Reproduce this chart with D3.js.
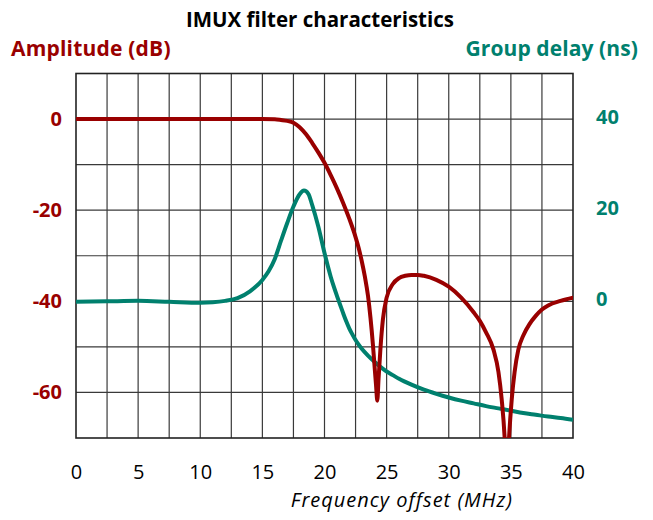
<!DOCTYPE html>
<html>
<head>
<meta charset="utf-8">
<script src="https://cdn.jsdelivr.net/npm/d3@7"></script>
<style>
  body { margin: 0; background: #fff; }
  svg text { font-family: "Open Sans", "Noto Sans", sans-serif; }
</style>
</head>
<body>
<svg id="chart" width="653" height="520"></svg>
<script>
// amplitude response (MHz, dB)
const ampFreq = [0, 5, 10, 15, 16, 16.5, 17, 17.5, 18, 18.5, 19, 19.5, 20, 20.5, 21, 21.5, 22, 22.5, 22.75, 23, 23.25, 23.5, 23.7, 23.9, 24.05, 24.15, 24.25, 24.35, 24.5, 24.7, 25, 25.5, 26, 26.5, 27, 27.5, 28, 29, 30, 31, 32, 32.5, 33, 33.6, 34, 34.26, 34.5, 34.66, 34.85, 35.07, 35.3, 35.6, 36, 36.5, 37, 37.5, 38, 39, 40];
const ampDb = [0, 0, 0, 0, -0.05, -0.2, -0.4, -0.8, -1.8, -3.3, -5.2, -7.3, -9.6, -12.3, -15.2, -18.4, -21.9, -25.9, -28.3, -31.2, -34.6, -38.8, -43.6, -49.6, -55, -58.5, -61.8, -57, -50.5, -44, -39.2, -36.2, -34.9, -34.4, -34.2, -34.2, -34.4, -35.3, -36.8, -39.2, -42.4, -44.3, -46.8, -50.6, -55.5, -61.5, -70, -80, -70, -61.5, -55.5, -50.6, -47.5, -45, -43.2, -41.8, -40.9, -39.9, -39.2];

// group delay (MHz, ns)
const gdFreq = [0, 2.5, 5, 7.5, 10, 11, 12, 13, 14, 15, 15.5, 16, 16.5, 17, 17.5, 18, 18.35, 18.7, 19, 19.5, 20, 20.25, 20.5, 20.75, 21, 21.25, 21.5, 21.75, 22, 22.25, 22.5, 22.75, 23, 23.5, 24, 24.5, 25, 25.5, 26, 27, 28, 29, 30, 31, 32, 33, 34, 35, 36, 37, 38, 39, 40];
const gdNs = [-0.1, 0, 0.1, -0.1, -0.3, -0.2, 0.1, 0.7, 2.2, 4.7, 6.6, 9.3, 13.3, 17.2, 20.8, 23.5, 24.3, 23.6, 21.2, 16.4, 10.6, 7.9, 5.4, 3.2, 1.2, -0.7, -2.6, -4.4, -6.0, -7.3, -8.5, -9.5, -10.4, -11.9, -13.2, -14.4, -15.4, -16.2, -17, -18.3, -19.4, -20.3, -21.1, -21.8, -22.4, -23, -23.5, -24, -24.5, -24.9, -25.3, -25.6, -26];

const freqTicks = [0, 5, 10, 15, 20, 25, 30, 35, 40];
const ampTicks = [0, -20, -40, -60];
const gdTicks = [0, 20, 40];

const red = "#990000";
const teal = "#00806e";

const svg = d3.select("#chart");
const pLeft = 76, pRight = 573, pTop = 73.5, pBottom = 438;

const x = d3.scaleLinear().domain([0, 40]).range([pLeft, pRight]);
const yAmp = d3.scaleLinear().domain([-70, 10]).range([pBottom, pTop]);
const yGd = d3.scaleLinear().domain([-30, 50]).range([pBottom, pTop]);

svg.append("defs").append("clipPath").attr("id", "plot")
    .append("rect")
    .attr("x", pLeft).attr("y", pTop)
    .attr("width", pRight - pLeft).attr("height", pBottom - pTop);

// grid
const grid = svg.append("g");
grid.selectAll(".vline")
    .data(d3.range(2.5, 40, 2.5))
    .enter().append("line")
    .attr("x1", d => x(d)).attr("x2", d => x(d))
    .attr("y1", pTop).attr("y2", pBottom)
    .attr("stroke", "#3a3a3a").attr("stroke-width", 1.2);
grid.selectAll(".hline")
    .data(d3.range(-60, 10, 10))
    .enter().append("line")
    .attr("x1", pLeft).attr("x2", pRight)
    .attr("y1", d => yAmp(d)).attr("y2", d => yAmp(d))
    .attr("stroke", "#3a3a3a").attr("stroke-width", 1.2);

svg.append("rect")
    .attr("x", pLeft).attr("y", pTop)
    .attr("width", pRight - pLeft).attr("height", pBottom - pTop)
    .attr("fill", "none").attr("stroke", "#222").attr("stroke-width", 1.6);

// curves
const gdLine = d3.line()
    .x((d, i) => x(gdFreq[i]))
    .y(d => yGd(d))
    .curve(d3.curveMonotoneX);

const ampLine = d3.line()
    .x((d, i) => x(ampFreq[i]))
    .y(d => yAmp(d))
    .curve(d3.curveMonotoneX);

const curves = svg.append("g").attr("clip-path", "url(#plot)");
curves.append("path")
    .attr("d", gdLine(gdNs))
    .attr("fill", "none").attr("stroke", teal)
    .attr("stroke-width", 4).attr("stroke-linejoin", "round");
curves.append("path")
    .attr("d", ampLine(ampDb))
    .attr("fill", "none").attr("stroke", red)
    .attr("stroke-width", 4).attr("stroke-linejoin", "round").attr("stroke-linecap", "round");

// axes
const axL = svg.append("g")
    .attr("transform", `translate(${pLeft},0)`)
    .call(d3.axisLeft(yAmp).tickValues(ampTicks).tickSize(0).tickPadding(14).tickFormat(d => String(d)));
axL.select(".domain").remove();
axL.selectAll("text")
    .attr("fill", red).attr("font-size", 20).attr("font-weight", "bold")
    .style("font-family", "'Open Sans', sans-serif");

const axR = svg.append("g")
    .attr("transform", `translate(${pRight},0)`)
    .call(d3.axisRight(yGd).tickValues(gdTicks).tickSize(0).tickPadding(23));
axR.select(".domain").remove();
axR.selectAll("text")
    .attr("fill", teal).attr("font-size", 20).attr("font-weight", "bold")
    .attr("dy", "0.22em")
    .style("font-family", "'Open Sans', sans-serif");

const axB = svg.append("g")
    .attr("transform", `translate(0,${pBottom})`)
    .call(d3.axisBottom(x).tickValues(freqTicks).tickSize(0).tickPadding(27));
axB.select(".domain").remove();
axB.selectAll("text")
    .attr("fill", "#000").attr("font-size", 20)
    .style("font-family", "'Open Sans', sans-serif");

// titles
svg.append("text")
    .attr("x", 320).attr("y", 27)
    .attr("text-anchor", "middle")
    .attr("font-size", 20.5).attr("font-weight", "bold")
    .text("IMUX filter characteristics");

svg.append("text")
    .attr("x", 11).attr("y", 56)
    .attr("fill", red)
    .attr("font-size", 21).attr("font-weight", "bold")
    .attr("letter-spacing", 0.2)
    .text("Amplitude (dB)");

svg.append("text")
    .attr("x", 638).attr("y", 56)
    .attr("text-anchor", "end")
    .attr("fill", teal)
    .attr("font-size", 21).attr("font-weight", "bold")
    .attr("letter-spacing", 0.1)
    .text("Group delay (ns)");

svg.append("text")
    .attr("x", 513).attr("y", 507)
    .attr("text-anchor", "end")
    .attr("font-size", 20).attr("font-style", "italic")
    .attr("letter-spacing", 1)
    .text("Frequency offset (MHz)");
</script>
</body>
</html>
